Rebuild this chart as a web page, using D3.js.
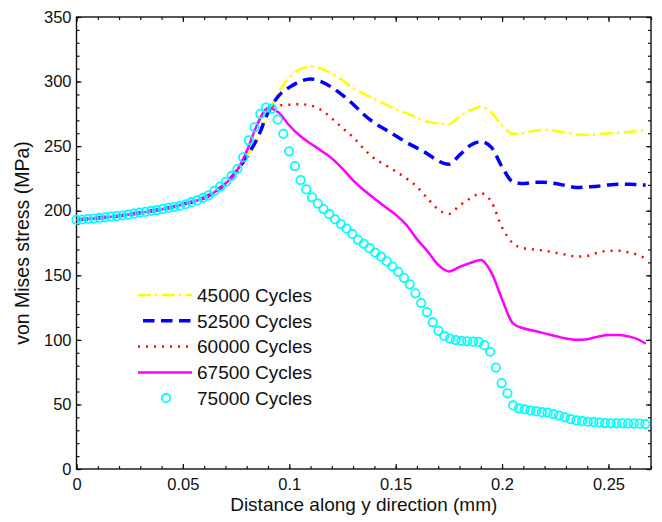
<!DOCTYPE html>
<html>
<head>
<meta charset="utf-8">
<script src="https://cdn.jsdelivr.net/npm/d3@7"></script>
<style>
    body { margin: 0; background: #fff; }
    svg { display: block; font-family: "Liberation Sans", Arial, sans-serif; }
</style>
</head>
<body>
<div id="chart"></div>
<script>
// x positions (mm) shared by the four line series
const lineX = [0, 0.01, 0.02, 0.03, 0.04, 0.05, 0.06,
    0.065, 0.07, 0.075, 0.08, 0.085, 0.09, 0.095, 0.1, 0.105, 0.11, 0.115, 0.12, 0.125, 0.13,
    0.135, 0.14, 0.145, 0.15, 0.155, 0.16, 0.165, 0.17, 0.175, 0.18, 0.185, 0.19, 0.195, 0.2,
    0.205, 0.21, 0.215, 0.22, 0.225, 0.23, 0.235, 0.24, 0.245, 0.25, 0.255, 0.26, 0.265, 0.2675]

const cycles45000 = [193, 194.3, 196, 198.5, 201, 205, 210, 214.5, 221, 230, 242,
    256, 274, 292, 303, 309.5, 311.5, 310, 306, 301, 295, 290.5, 286.5, 282.5, 278.5, 275.5,
    272, 269, 267.5, 267, 273, 277.5, 280.5, 276, 266, 259.5, 260, 262, 262.5, 262, 260.5,
    259, 258.8, 259.2, 260, 260.5, 261, 262, 262.5]
const cycles52500 = [193, 194.3, 196, 198.5, 201, 205, 210, 214.5, 221, 230, 242,
    256, 276, 289, 295.5, 300, 302, 300, 295.5, 289.5, 282.5, 274.5, 268, 263, 258, 253,
    248.5, 244, 238.5, 236, 243, 250.5, 253.5, 249, 234, 222.5, 221, 222, 222, 221, 219.5,
    218, 218.5, 219, 220, 220.5, 220.5, 220, 220]
const cycles60000 = [193, 194.3, 196, 198.5, 201, 205, 210, 214.5, 221, 230, 246,
    267, 279.5, 281.5, 282, 282.5, 281.5, 278, 271.5, 264, 257, 248, 240.5, 235.5, 230.5, 225,
    218.5, 209.5, 201, 197.5, 204, 209.5, 213.5, 207, 187, 175, 171, 170, 169, 167.5, 166,
    164.5, 165, 167.5, 169, 169, 167.5, 165, 163]
const cycles67500 = [193, 194.3, 196, 198.5, 201, 205, 210, 214.5, 221, 230, 246,
    267, 279.5, 276, 266, 258, 252, 246.5, 240.5, 232.5, 223.5, 216, 209.5, 203, 197, 189,
    178, 168.5, 158, 153, 156.5, 159.5, 161.8, 152, 131.5, 113, 109, 107, 105, 103, 101,
    100, 100.5, 102.5, 103.8, 103.8, 102.5, 99.5, 97]

// 75000 cycles: one marker per node, step 0.0027 mm
const markerX = d3.range(100).map(i => +(i * 0.0027).toFixed(4))
const cycles75000 = [193, 193.2, 193.6, 193.9, 194.4, 194.9, 195.4, 195.8, 196.3, 196.9,
    197.7, 198.5, 199.1, 199.8, 200.5, 201.4, 202.2, 203, 203.7, 205,
    206.6, 208, 209.9, 211.9, 215.3, 218.7, 222.3, 226.9, 232.3, 241.3,
    254.5, 264.5, 275, 279.9, 279, 270.5, 259.5, 246, 234.6, 223.7,
    216.5, 210.4, 205.5, 201.3, 197.3, 193.4, 189.7, 186.1, 182, 177.5,
    174.4, 171, 167.5, 164.4, 160.8, 156.8, 152.7, 148, 143, 136,
    128.5, 121.5, 113.6, 107, 103, 101, 99.8, 99.2, 98.9, 98.6,
    98.4, 95.9, 90.8, 78.5, 66.5, 58.6, 49.2, 47, 46.1, 45.3,
    44.6, 44, 43.6, 42.5, 41.4, 40, 38.6, 37.6, 37, 36.6,
    36.3, 36, 35.6, 35.4, 35.4, 35.4, 35.3, 35.2, 35.1, 34.8]

const xTicks = [0, 0.05, 0.1, 0.15, 0.2, 0.25]
const yTicks = [0, 50, 100, 150, 200, 250, 300, 350]

const series = [
    { name: '45000 Cycles', values: cycles45000, color: '#ffff00', width: 2.5, dash: '13 4 2.5 4.5' },
    { name: '52500 Cycles', values: cycles52500, color: '#0000ff', width: 3.5, dash: '11.5 6.5' },
    { name: '60000 Cycles', values: cycles60000, color: '#ff0000', width: 2.5, dash: '2 6' },
    { name: '67500 Cycles', values: cycles67500, color: '#ff00ff', width: 2.5, dash: null }
]
const markerSeries = { name: '75000 Cycles', color: '#00ffff' }

const width = 662
const height = 522
const dim = { left: 76.5, right: 651, top: 17, bottom: 469 }

const svg = d3.select('#chart').append('svg')
    .attr('width', width).attr('height', height)

const x = d3.scaleLinear().domain([0, 0.27]).range([dim.left, dim.right])
const y = d3.scaleLinear().domain([0, 350]).range([dim.bottom, dim.top])

const xMinor = d3.range(0, 0.2701, 0.01).map(d => +d.toFixed(2))
const yMinor = d3.range(0, 351, 10)

// minor ticks first, then major with labels
const tickFont = g => g.selectAll('text')
    .style('font-family', '"Liberation Sans", Arial, sans-serif')
    .style('font-size', '16.5px').attr('fill', '#111')

svg.append('g').attr('transform', `translate(0,${dim.bottom})`)
    .call(d3.axisBottom(x).tickValues(xMinor).tickSize(-3).tickFormat(''))
    .call(g => g.select('.domain').remove())
svg.append('g').attr('transform', `translate(0,${dim.top})`)
    .call(d3.axisTop(x).tickValues(xMinor).tickSize(-3).tickFormat(''))
    .call(g => g.select('.domain').remove())
svg.append('g').attr('transform', `translate(${dim.left},0)`)
    .call(d3.axisLeft(y).tickValues(yMinor).tickSize(-3).tickFormat(''))
    .call(g => g.select('.domain').remove())
svg.append('g').attr('transform', `translate(${dim.right},0)`)
    .call(d3.axisRight(y).tickValues(yMinor).tickSize(-3).tickFormat(''))
    .call(g => g.select('.domain').remove())

svg.append('g').attr('transform', `translate(0,${dim.bottom})`)
    .call(d3.axisBottom(x).tickValues(xTicks).tickSize(-5).tickPadding(9).tickFormat(d3.format('')))
    .call(g => g.select('.domain').remove())
    .call(tickFont)
svg.append('g').attr('transform', `translate(0,${dim.top})`)
    .call(d3.axisTop(x).tickValues(xTicks).tickSize(-5).tickFormat(''))
    .call(g => g.select('.domain').remove())
svg.append('g').attr('transform', `translate(${dim.left},0)`)
    .call(d3.axisLeft(y).tickValues(yTicks).tickSize(-5).tickPadding(5))
    .call(g => g.select('.domain').remove())
    .call(tickFont)
svg.append('g').attr('transform', `translate(${dim.right},0)`)
    .call(d3.axisRight(y).tickValues(yTicks).tickSize(-5).tickFormat(''))
    .call(g => g.select('.domain').remove())

svg.selectAll('.tick line').attr('stroke', '#111').attr('stroke-width', 1.2)

svg.append('rect')
    .attr('x', dim.left).attr('y', dim.top)
    .attr('width', dim.right - dim.left).attr('height', dim.bottom - dim.top)
    .attr('fill', 'none').attr('stroke', '#111').attr('stroke-width', 1.4)

const line = d3.line()
    .x((d, i) => x(lineX[i]))
    .y(d => y(d))
    .curve(d3.curveMonotoneX)

const plot = svg.append('g')
series.forEach(s => {
    plot.append('path')
        .attr('d', line(s.values))
        .attr('fill', 'none')
        .attr('stroke', s.color)
        .attr('stroke-width', s.width)
        .attr('stroke-dasharray', s.dash)
})

plot.selectAll('.marker')
    .data(cycles75000)
    .join('circle').attr('class', 'marker')
    .attr('cx', (d, i) => x(markerX[i]))
    .attr('cy', d => y(d))
    .attr('r', 4.2)
    .attr('fill', 'none')
    .attr('stroke', markerSeries.color)
    .attr('stroke-width', 1.8)

// legend
const legendX = 138
const legendY = 295
const legendStep = 25.8
const legend = svg.append('g')
series.forEach((s, i) => {
    const ly = legendY + i * legendStep
    legend.append('line')
        .attr('x1', legendX + (i == 1 ? 5 : 0)).attr('x2', 192)
        .attr('y1', ly).attr('y2', ly)
        .attr('stroke', s.color)
        .attr('stroke-width', s.width)
        .attr('stroke-dasharray', s.dash)
})
legend.append('circle')
    .attr('cx', 166).attr('cy', legendY + 4 * legendStep)
    .attr('r', 4.2)
    .attr('fill', 'none')
    .attr('stroke', markerSeries.color)
    .attr('stroke-width', 1.8)
legend.selectAll('text')
    .data(series.map(s => s.name).concat(markerSeries.name))
    .join('text')
    .attr('x', 197)
    .attr('y', (d, i) => legendY + i * legendStep)
    .attr('dy', '0.36em')
    .style('font-size', '19px')
    .attr('fill', '#111')
    .text(d => d)

// axis titles
svg.append('text')
    .attr('x', (dim.left + dim.right) / 2).attr('y', 511)
    .attr('text-anchor', 'middle')
    .style('font-size', '19px').attr('fill', '#111')
    .text('Distance along y direction (mm)')
svg.append('text')
    .attr('transform', `translate(29,${(dim.top + dim.bottom) / 2}) rotate(-90)`)
    .attr('text-anchor', 'middle')
    .style('font-size', '19.5px').attr('fill', '#111')
    .text('von Mises stress (MPa)')
</script>
</body>
</html>
